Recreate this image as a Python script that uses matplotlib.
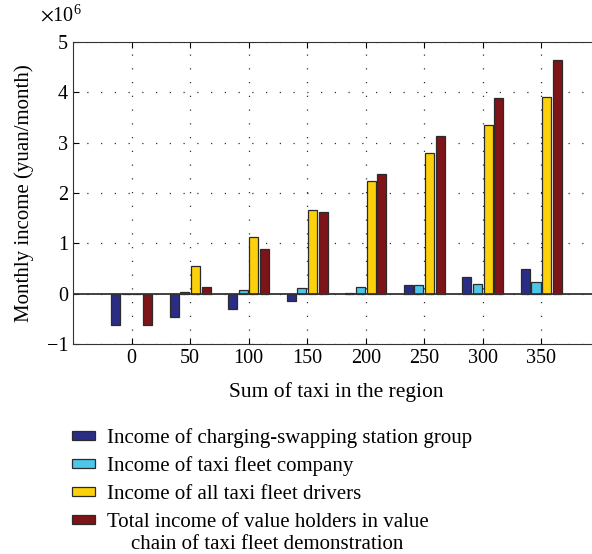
import numpy as np
import matplotlib.pyplot as plt

plt.rcParams['font.family'] = ['Liberation Serif', 'DejaVu Serif']
plt.rcParams['mathtext.fontset'] = 'stix'

taxi_sum = [0, 50, 100, 150, 200, 250, 300, 350]
station_group = [-0.61, -0.46, -0.30, -0.15, 0.01, 0.18, 0.34, 0.49]
fleet_company = [0.0, 0.03, 0.07, 0.11, 0.145, 0.18, 0.20, 0.23]
fleet_drivers = [0.0, 0.56, 1.12, 1.67, 2.24, 2.80, 3.35, 3.90]
total_income = [-0.61, 0.14, 0.89, 1.63, 2.38, 3.13, 3.88, 4.63]

labels = ['Income of charging-swapping station group',
          'Income of taxi fleet company',
          'Income of all taxi fleet drivers',
          'Total income of value holders in value']
label_tail = 'chain of taxi fleet demonstration'
colors = ['#2a2d84', '#4dc6ea', '#fdd00c', '#7e1418']

fig = plt.figure(figsize=(5.92, 5.54), dpi=100)
ax = fig.add_axes([0.1233, 0.3785, 0.890, 0.546])

x = np.array(taxi_sum, dtype=float)
step = 9.1
series = [station_group, fleet_company, fleet_drivers, total_income]
for i, vals in enumerate(series):
    ax.bar(x + (i - 1.5) * step, vals, width=7.7, color=colors[i],
           edgecolor='#2b2b2b', linewidth=0.9, label=labels[i], zorder=3)

ax.axhline(0, color='#333333', linewidth=1.3, zorder=4)
ax.set_xlim(-50, 400)
ax.set_ylim(-1, 5)
ax.set_xticks(taxi_sum)
ax.set_yticks([-1, 0, 1, 2, 3, 4, 5])
ax.grid(True, linestyle=(0, (1, 10)), color='#333333', linewidth=0.9, zorder=0)
ax.tick_params(direction='in', top=True, right=False, labelsize=14.5, length=4)
ax.spines['right'].set_visible(False)
for s in ax.spines.values():
    s.set_color('#333333')

ax.set_xlabel('Sum of taxi in the region', fontsize=15.5, labelpad=10)
ax.set_ylabel('Monthly income (yuan/month)', fontsize=15, labelpad=9)
fig.text(0.068, 0.972, r'$\times\mathregular{10^6}$', fontsize=14.5, va='center')

leg = fig.legend(loc='upper left', bbox_to_anchor=(0.107, 0.243), frameon=False,
                 fontsize=15, handlelength=1.1, handleheight=0.3,
                 labelspacing=0.42, handletextpad=0.58, borderaxespad=0)

# second line of the last entry, centred under the first line
fig.canvas.draw()
bb = leg.get_texts()[-1].get_window_extent()
cx = (bb.x0 + bb.x1) / 2 / fig.bbox.width
cy = ((bb.y0 + bb.y1) / 2 - 22) / fig.bbox.height
fig.text(cx, cy, label_tail, fontsize=15, ha='center', va='center')

fig.savefig('out.png', dpi=100)
